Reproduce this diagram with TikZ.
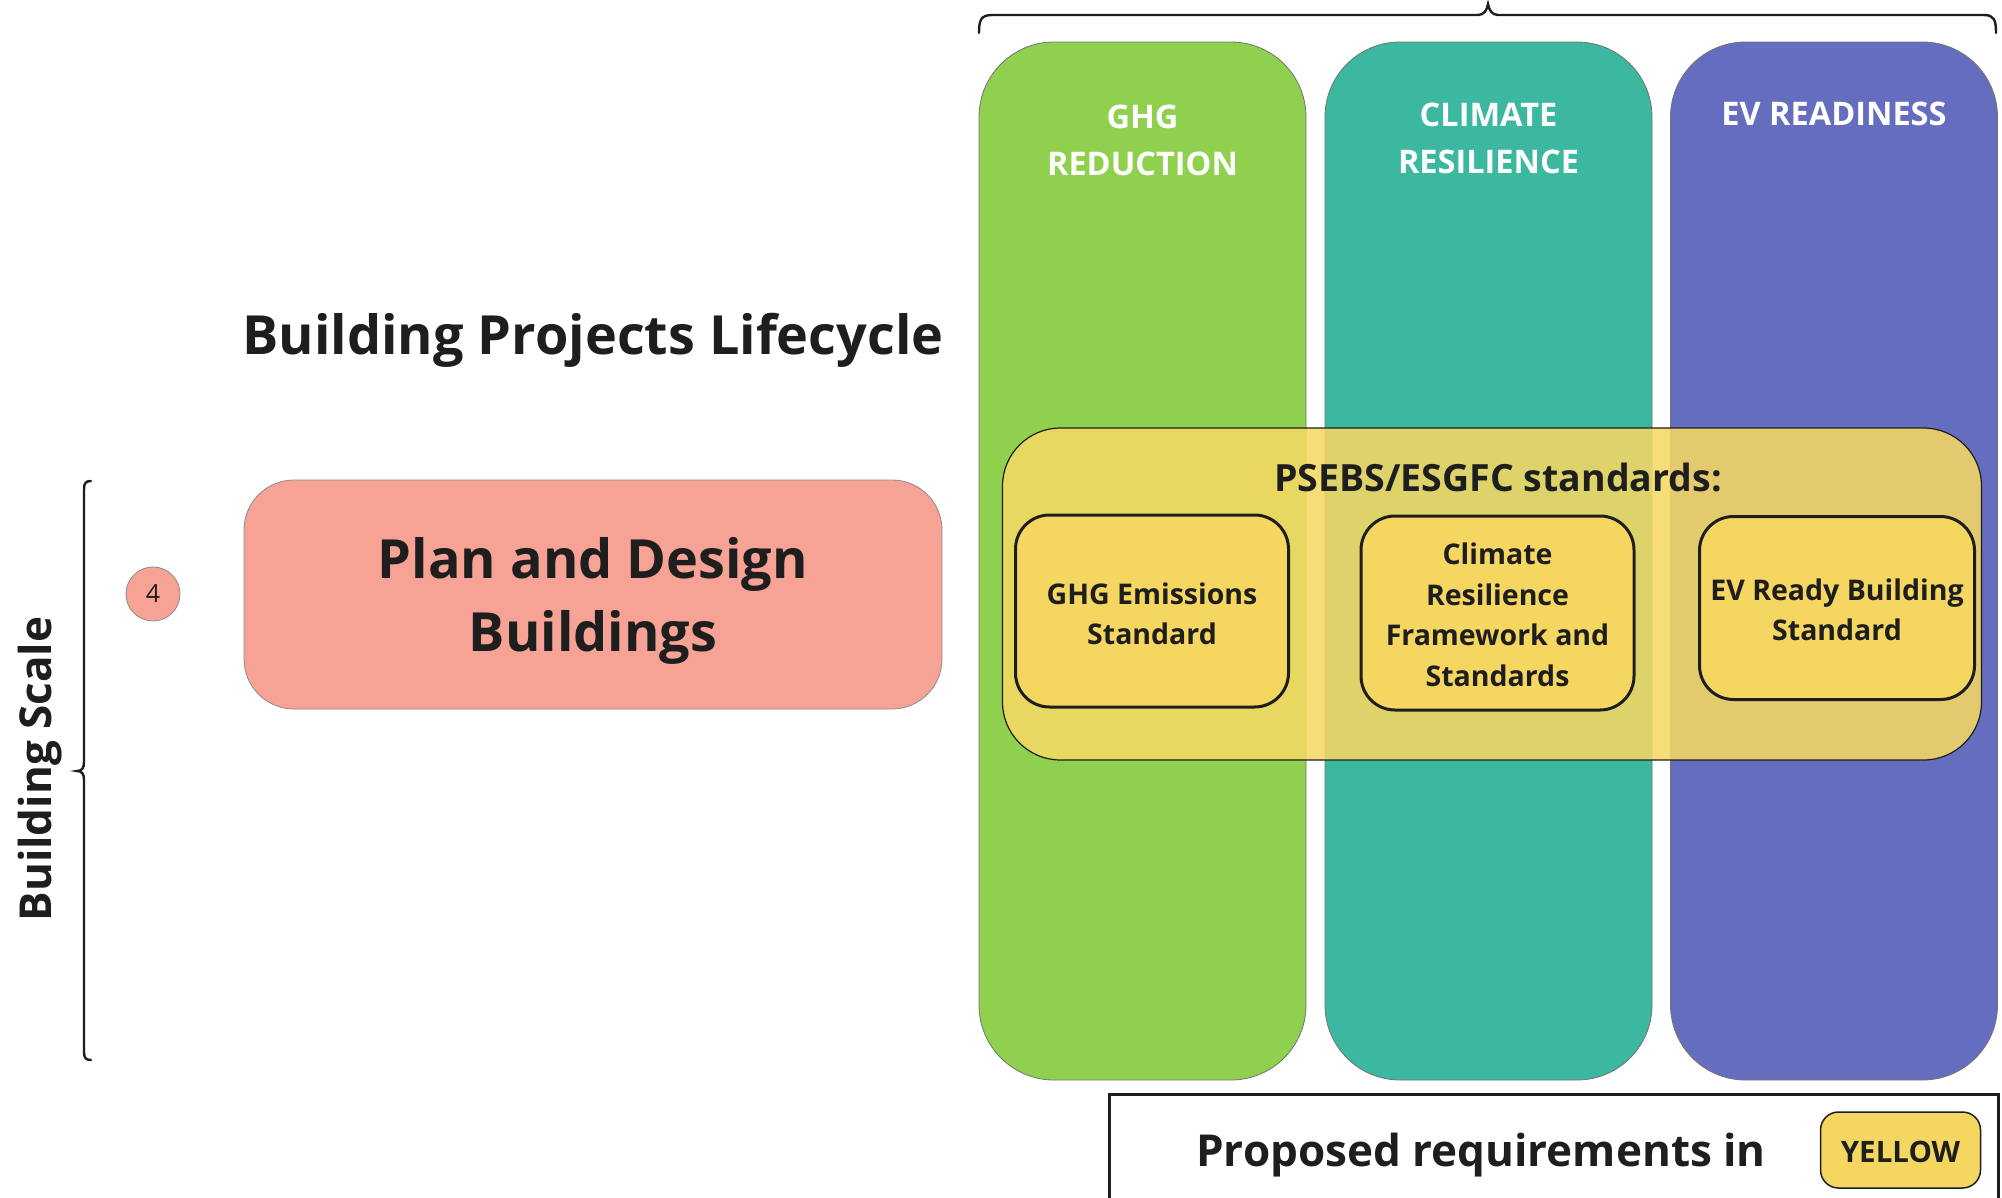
\documentclass[tikz,border=0pt]{standalone}
\usepackage{fontspec}
\setmainfont{Open Sans}
\definecolor{cgreen}{HTML}{8FD14F}
\definecolor{cteal}{HTML}{3DB8A0}
\definecolor{cpurple}{HTML}{656DBE}
\definecolor{csalmon}{HTML}{F6A294}
\definecolor{cyellow}{HTML}{F4D661}
\definecolor{cgroup}{HTML}{F6D864}
\definecolor{cink}{HTML}{1E1E1E}
\tikzset{
  colbox/.style={draw=black!55, line width=0.8pt, rounded corners=75pt, minimum width=327pt, minimum height=1038pt, inner sep=0pt},
  coltitle/.style={text=white, align=center, font=\fontsize{32.5}{47}\selectfont\bfseries},
  stdbox/.style={draw=cink, line width=3pt, fill=cyellow, rounded corners=34pt, inner sep=0pt},
  stdtext/.style={align=center, text=cink, font=\fontsize{28.5}{40.5}\selectfont\bfseries},
  bigtext/.style={text=cink, align=center, font=\fontsize{54}{73}\selectfont\bfseries},
}
\begin{document}
\begin{tikzpicture}[x=1pt,y=-1pt]
\useasboundingbox[fill=white] (0,0) rectangle (2002,1197);
% columns
\node[colbox, fill=cgreen]  (ghgcol) at (1142.5,561) {};
\node[colbox, fill=cteal]   (climcol) at (1488.5,561) {};
\node[colbox, fill=cpurple] (evcol) at (1834,561) {};
\node[coltitle] (ghgt) at (1142.5,140) {GHG\\REDUCTION};
\node[coltitle] (climt) at (1488.5,138) {CLIMATE\\RESILIENCE};
\node[coltitle] (evt) at (1834,114) {EV READINESS};
% top brace
\draw[line width=2.4pt, cink, line cap=round] (979,33) .. controls (979,20) and (981,15) .. (992,15) -- (1478,15) .. controls (1484,15) and (1487,10) .. (1488,4) .. controls (1489,10) and (1492,15) .. (1498,15) -- (1984,15) .. controls (1994,15) and (1996,20) .. (1996,33);
% title
\node[bigtext] (title) at (593,340) {Building Projects Lifecycle};
% plan box
\node[draw=black!45, line width=0.8pt, fill=csalmon, rounded corners=50pt, minimum width=698pt, minimum height=229pt, inner sep=0pt] (plan) at (593,594.5) {};
\node[bigtext] (plant) at (593,601) {Plan and Design\\Buildings};
% circle 4
\node[circle, draw=black!45, line width=0.8pt, fill=csalmon, minimum size=54pt, inner sep=0pt, text=cink, font=\fontsize{25}{28}\selectfont] (num) at (153,594) {4};
% left brace
\draw[line width=2.4pt, cink, line cap=round] (91,481) .. controls (86,481) and (84,483) .. (84,489) -- (84,762) .. controls (84,768) and (82,771) .. (77,771) .. controls (82,771) and (84,774) .. (84,780) -- (84,1052) .. controls (84,1058) and (86,1060) .. (91,1060);
\node[rotate=90, text=cink, font=\fontsize{44}{50}\selectfont\bfseries] (scale) at (40,769) {Building Scale};
% group box
\node[draw=cink, line width=1.2pt, fill=cgroup, fill opacity=0.87, rounded corners=58pt, minimum width=979pt, minimum height=332pt, inner sep=0pt] (group) at (1492,594) {};
\node[text=cink, font=\fontsize{37.5}{40}\selectfont\bfseries] (grpt) at (1498,477) {PSEBS/ESGFC standards:};
\node[stdbox, minimum width=273pt, minimum height=192pt] (ghgstd) at (1152,611) {};
\node[stdtext] (ghgstdt) at (1152,614) {GHG Emissions\\Standard};
\node[stdbox, minimum width=273pt, minimum height=194pt] (climstd) at (1497.5,613) {};
\node[stdtext] (climstdt) at (1497.5,615) {Climate\\Resilience\\Framework and\\Standards};
\node[stdbox, minimum width=275pt, minimum height=183pt] (evstd) at (1837,608) {};
\node[stdtext] (evstdt) at (1837,610) {EV Ready Building\\Standard};
% legend
\draw[cink, line width=3pt] (1109,1205) -- (1109,1094) -- (1998,1094) -- (1998,1205);
\node[text=cink, font=\fontsize{44}{50}\selectfont\bfseries] (prop) at (1481,1155) {Proposed requirements in};
\node[draw=cink, line width=1.5pt, fill=cyellow, rounded corners=18pt, minimum width=160pt, minimum height=76pt, inner sep=0pt] (yel) at (1900.5,1150) {};
\node[text=cink, font=\fontsize{29.5}{30}\selectfont\bfseries] (yelt) at (1900.5,1152) {YELLOW};
\end{tikzpicture}
\end{document}
